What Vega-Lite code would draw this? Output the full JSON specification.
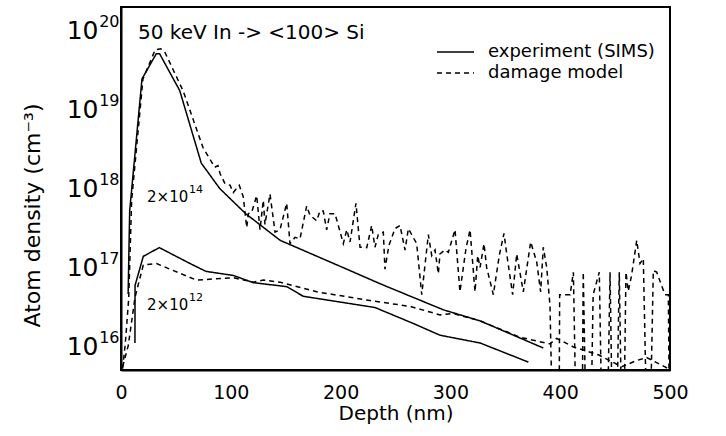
{
  "$schema": "https://vega.github.io/schema/vega-lite/v6.json",
  "width": 549,
  "height": 363,
  "autosize": {"type": "none"},
  "padding": {"left": 121, "top": 7, "right": 56, "bottom": 66},
  "background": "white",
  "config": {
    "view": {"stroke": "black", "strokeWidth": 2},
    "axis": {"grid": false, "domainColor": "black", "domainWidth": 2, "labelColor": "black", "titleColor": "black", "labelFont": "DejaVu Sans", "titleFont": "DejaVu Sans", "titleFontWeight": "normal", "labelOverlap": false},
    "text": {"font": "DejaVu Sans", "color": "black"}
  },
  "datasets": {
    "curves": [
      {"curve": "exp14", "kind": "experiment (SIMS)", "depth": 6.5, "density": 4.6e16},
      {"curve": "exp14", "kind": "experiment (SIMS)", "depth": 7.9, "density": 5.2e17},
      {"curve": "exp14", "kind": "experiment (SIMS)", "depth": 19.1, "density": 2.45e19},
      {"curve": "exp14", "kind": "experiment (SIMS)", "depth": 32.1, "density": 5.1e19},
      {"curve": "exp14", "kind": "experiment (SIMS)", "depth": 35.2, "density": 5.1e19},
      {"curve": "exp14", "kind": "experiment (SIMS)", "depth": 53.5, "density": 1.74e19},
      {"curve": "exp14", "kind": "experiment (SIMS)", "depth": 73.1, "density": 2.1e18},
      {"curve": "exp14", "kind": "experiment (SIMS)", "depth": 89.9, "density": 1.0e18},
      {"curve": "exp14", "kind": "experiment (SIMS)", "depth": 113.5, "density": 4.8e17},
      {"curve": "exp14", "kind": "experiment (SIMS)", "depth": 145, "density": 2.2e17},
      {"curve": "exp14", "kind": "experiment (SIMS)", "depth": 208.6, "density": 9.1e16},
      {"curve": "exp14", "kind": "experiment (SIMS)", "depth": 236, "density": 6.2e16},
      {"curve": "exp14", "kind": "experiment (SIMS)", "depth": 293.5, "density": 2.9e16},
      {"curve": "exp14", "kind": "experiment (SIMS)", "depth": 327, "density": 2.1e16},
      {"curve": "exp14", "kind": "experiment (SIMS)", "depth": 384.6, "density": 9.5e15},

      {"curve": "exp12", "kind": "experiment (SIMS)", "depth": 12.7, "density": 1.1e16},
      {"curve": "exp12", "kind": "experiment (SIMS)", "depth": 12.8, "density": 5.9e16},
      {"curve": "exp12", "kind": "experiment (SIMS)", "depth": 20.3, "density": 1.38e17},
      {"curve": "exp12", "kind": "experiment (SIMS)", "depth": 34.9, "density": 1.78e17},
      {"curve": "exp12", "kind": "experiment (SIMS)", "depth": 62.8, "density": 1.12e17},
      {"curve": "exp12", "kind": "experiment (SIMS)", "depth": 77.4, "density": 8.9e16},
      {"curve": "exp12", "kind": "experiment (SIMS)", "depth": 102.3, "density": 7.9e16},
      {"curve": "exp12", "kind": "experiment (SIMS)", "depth": 120.5, "density": 6.4e16},
      {"curve": "exp12", "kind": "experiment (SIMS)", "depth": 150.9, "density": 5.7e16},
      {"curve": "exp12", "kind": "experiment (SIMS)", "depth": 166, "density": 4.3e16},
      {"curve": "exp12", "kind": "experiment (SIMS)", "depth": 231.3, "density": 3.1e16},
      {"curve": "exp12", "kind": "experiment (SIMS)", "depth": 266, "density": 1.95e16},
      {"curve": "exp12", "kind": "experiment (SIMS)", "depth": 290.5, "density": 1.38e16},
      {"curve": "exp12", "kind": "experiment (SIMS)", "depth": 327, "density": 1.1e16},
      {"curve": "exp12", "kind": "experiment (SIMS)", "depth": 371, "density": 6.3e15},

      {"curve": "dam12", "kind": "damage model", "depth": 1.5, "density": 5.5e15},
      {"curve": "dam12", "kind": "damage model", "depth": 6.6, "density": 1.02e16},
      {"curve": "dam12", "kind": "damage model", "depth": 12.8, "density": 4.2e16},
      {"curve": "dam12", "kind": "damage model", "depth": 20.3, "density": 1.07e17},
      {"curve": "dam12", "kind": "damage model", "depth": 32.4, "density": 1.12e17},
      {"curve": "dam12", "kind": "damage model", "depth": 44.5, "density": 9.5e16},
      {"curve": "dam12", "kind": "damage model", "depth": 68.8, "density": 6.9e16},
      {"curve": "dam12", "kind": "damage model", "depth": 102.3, "density": 7.4e16},
      {"curve": "dam12", "kind": "damage model", "depth": 120.5, "density": 6.5e16},
      {"curve": "dam12", "kind": "damage model", "depth": 129.6, "density": 6.9e16},
      {"curve": "dam12", "kind": "damage model", "depth": 144.8, "density": 6.5e16},
      {"curve": "dam12", "kind": "damage model", "depth": 178.2, "density": 4.9e16},
      {"curve": "dam12", "kind": "damage model", "depth": 226.8, "density": 3.8e16},
      {"curve": "dam12", "kind": "damage model", "depth": 263.2, "density": 3.2e16},
      {"curve": "dam12", "kind": "damage model", "depth": 290.5, "density": 2.5e16},
      {"curve": "dam12", "kind": "damage model", "depth": 302.6, "density": 2.6e16},
      {"curve": "dam12", "kind": "damage model", "depth": 327, "density": 2.1e16},
      {"curve": "dam12", "kind": "damage model", "depth": 363.4, "density": 1.3e16},
      {"curve": "dam12", "kind": "damage model", "depth": 390.7, "density": 1.07e16},
      {"curve": "dam12", "kind": "damage model", "depth": 396.8, "density": 1.26e16},
      {"curve": "dam12", "kind": "damage model", "depth": 412, "density": 9.8e15},
      {"curve": "dam12", "kind": "damage model", "depth": 434.7, "density": 7.8e15},
      {"curve": "dam12", "kind": "damage model", "depth": 456, "density": 5.5e15},
      {"curve": "dam12", "kind": "damage model", "depth": 469.7, "density": 6.6e15},
      {"curve": "dam12", "kind": "damage model", "depth": 478.8, "density": 7.2e15},
      {"curve": "dam12", "kind": "damage model", "depth": 498.5, "density": 5.2e15},

      {"curve": "dam14", "kind": "damage model", "depth": 1.5, "density": 5.2e15},
      {"curve": "dam14", "kind": "damage model", "depth": 4, "density": 1.12e16},
      {"curve": "dam14", "kind": "damage model", "depth": 7, "density": 4.0e16},
      {"curve": "dam14", "kind": "damage model", "depth": 9.7, "density": 7.1e17},
      {"curve": "dam14", "kind": "damage model", "depth": 20, "density": 2.45e19},
      {"curve": "dam14", "kind": "damage model", "depth": 31.2, "density": 5.75e19},
      {"curve": "dam14", "kind": "damage model", "depth": 36.2, "density": 5.9e19},
      {"curve": "dam14", "kind": "damage model", "depth": 39.8, "density": 5.4e19},
      {"curve": "dam14", "kind": "damage model", "depth": 56.5, "density": 1.74e19},
      {"curve": "dam14", "kind": "damage model", "depth": 74.7, "density": 3.3e18},
      {"curve": "dam14", "kind": "damage model", "depth": 85.4, "density": 1.86e18},
      {"curve": "dam14", "kind": "damage model", "depth": 88.3, "density": 1.95e18},
      {"curve": "dam14", "kind": "damage model", "depth": 90.2, "density": 1.55e18},
      {"curve": "dam14", "kind": "damage model", "depth": 94.7, "density": 1.15e18},
      {"curve": "dam14", "kind": "damage model", "depth": 99.3, "density": 1.1e18},
      {"curve": "dam14", "kind": "damage model", "depth": 102.3, "density": 8.9e17},
      {"curve": "dam14", "kind": "damage model", "depth": 107.7, "density": 1.1e18},
      {"curve": "dam14", "kind": "damage model", "depth": 111.4, "density": 7.8e17},
      {"curve": "dam14", "kind": "damage model", "depth": 114.5, "density": 3.2e17},
      {"curve": "dam14", "kind": "damage model", "depth": 116, "density": 4.8e17},
      {"curve": "dam14", "kind": "damage model", "depth": 119, "density": 5.0e17},
      {"curve": "dam14", "kind": "damage model", "depth": 123.6, "density": 8.1e17},
      {"curve": "dam14", "kind": "damage model", "depth": 126.6, "density": 3.0e17},
      {"curve": "dam14", "kind": "damage model", "depth": 129.6, "density": 7.1e17},
      {"curve": "dam14", "kind": "damage model", "depth": 131.1, "density": 3.5e17},
      {"curve": "dam14", "kind": "damage model", "depth": 135.7, "density": 8.5e17},
      {"curve": "dam14", "kind": "damage model", "depth": 140.3, "density": 2.8e17},
      {"curve": "dam14", "kind": "damage model", "depth": 144.8, "density": 3.0e17},
      {"curve": "dam14", "kind": "damage model", "depth": 150.9, "density": 6.5e17},
      {"curve": "dam14", "kind": "damage model", "depth": 153.9, "density": 2.0e17},
      {"curve": "dam14", "kind": "damage model", "depth": 158.5, "density": 2.4e17},
      {"curve": "dam14", "kind": "damage model", "depth": 163, "density": 2.3e17},
      {"curve": "dam14", "kind": "damage model", "depth": 169.1, "density": 6.0e17},
      {"curve": "dam14", "kind": "damage model", "depth": 172.1, "density": 4.6e17},
      {"curve": "dam14", "kind": "damage model", "depth": 178.2, "density": 3.9e17},
      {"curve": "dam14", "kind": "damage model", "depth": 181.2, "density": 5.2e17},
      {"curve": "dam14", "kind": "damage model", "depth": 184.2, "density": 5.2e17},
      {"curve": "dam14", "kind": "damage model", "depth": 187.3, "density": 3.0e17},
      {"curve": "dam14", "kind": "damage model", "depth": 190.3, "density": 4.8e17},
      {"curve": "dam14", "kind": "damage model", "depth": 194.9, "density": 4.8e17},
      {"curve": "dam14", "kind": "damage model", "depth": 202.5, "density": 2.0e17},
      {"curve": "dam14", "kind": "damage model", "depth": 205.6, "density": 3.0e17},
      {"curve": "dam14", "kind": "damage model", "depth": 208.6, "density": 2.1e17},
      {"curve": "dam14", "kind": "damage model", "depth": 214, "density": 6.5e17},
      {"curve": "dam14", "kind": "damage model", "depth": 217.7, "density": 1.8e17},
      {"curve": "dam14", "kind": "damage model", "depth": 223.8, "density": 1.78e17},
      {"curve": "dam14", "kind": "damage model", "depth": 228.3, "density": 3.4e17},
      {"curve": "dam14", "kind": "damage model", "depth": 231.3, "density": 1.8e17},
      {"curve": "dam14", "kind": "damage model", "depth": 234.3, "density": 2.6e17},
      {"curve": "dam14", "kind": "damage model", "depth": 238.9, "density": 2.8e17},
      {"curve": "dam14", "kind": "damage model", "depth": 240.4, "density": 9.5e16},
      {"curve": "dam14", "kind": "damage model", "depth": 244, "density": 1.9e17},
      {"curve": "dam14", "kind": "damage model", "depth": 249.5, "density": 3.1e17},
      {"curve": "dam14", "kind": "damage model", "depth": 254.1, "density": 3.4e17},
      {"curve": "dam14", "kind": "damage model", "depth": 258.7, "density": 1.66e17},
      {"curve": "dam14", "kind": "damage model", "depth": 261.7, "density": 3.1e17},
      {"curve": "dam14", "kind": "damage model", "depth": 269.3, "density": 2.0e17},
      {"curve": "dam14", "kind": "damage model", "depth": 273.9, "density": 4.5e16},
      {"curve": "dam14", "kind": "damage model", "depth": 279.9, "density": 2.6e17},
      {"curve": "dam14", "kind": "damage model", "depth": 283, "density": 1.41e17},
      {"curve": "dam14", "kind": "damage model", "depth": 286, "density": 1.66e17},
      {"curve": "dam14", "kind": "damage model", "depth": 289, "density": 8.3e16},
      {"curve": "dam14", "kind": "damage model", "depth": 290.5, "density": 1.48e17},
      {"curve": "dam14", "kind": "damage model", "depth": 295.1, "density": 1.66e17},
      {"curve": "dam14", "kind": "damage model", "depth": 298.1, "density": 1.55e17},
      {"curve": "dam14", "kind": "damage model", "depth": 304.2, "density": 3.0e17},
      {"curve": "dam14", "kind": "damage model", "depth": 308.7, "density": 4.9e16},
      {"curve": "dam14", "kind": "damage model", "depth": 314.2, "density": 1.74e17},
      {"curve": "dam14", "kind": "damage model", "depth": 317.9, "density": 3.0e17},
      {"curve": "dam14", "kind": "damage model", "depth": 322.4, "density": 4.9e16},
      {"curve": "dam14", "kind": "damage model", "depth": 324.9, "density": 1.41e17},
      {"curve": "dam14", "kind": "damage model", "depth": 327, "density": 1.0e17},
      {"curve": "dam14", "kind": "damage model", "depth": 330.6, "density": 2.0e17},
      {"curve": "dam14", "kind": "damage model", "depth": 333, "density": 1.0e17},
      {"curve": "dam14", "kind": "damage model", "depth": 339.1, "density": 4.5e16},
      {"curve": "dam14", "kind": "damage model", "depth": 344.5, "density": 1.41e17},
      {"curve": "dam14", "kind": "damage model", "depth": 348.8, "density": 2.7e17},
      {"curve": "dam14", "kind": "damage model", "depth": 351.3, "density": 1.48e17},
      {"curve": "dam14", "kind": "damage model", "depth": 356.7, "density": 4.5e16},
      {"curve": "dam14", "kind": "damage model", "depth": 360.4, "density": 1.48e17},
      {"curve": "dam14", "kind": "damage model", "depth": 366.4, "density": 4.9e16},
      {"curve": "dam14", "kind": "damage model", "depth": 373.1, "density": 2.1e17},
      {"curve": "dam14", "kind": "damage model", "depth": 378.6, "density": 1.17e17},
      {"curve": "dam14", "kind": "damage model", "depth": 382.2, "density": 4.9e16},
      {"curve": "dam14", "kind": "damage model", "depth": 384.6, "density": 1.8e17},
      {"curve": "dam14", "kind": "damage model", "depth": 387.7, "density": 1.0e17},
      {"curve": "dam14", "kind": "damage model", "depth": 390.7, "density": 3.3e16},
      {"curve": "dam14", "kind": "damage model", "depth": 393, "density": 1e15},
      {"curve": "dam14", "kind": "damage model", "depth": 399, "density": 1e15},
      {"curve": "dam14", "kind": "damage model", "depth": 399.5, "density": 4.5e16},
      {"curve": "dam14", "kind": "damage model", "depth": 409, "density": 4.5e16},
      {"curve": "dam14", "kind": "damage model", "depth": 412, "density": 8.7e16},
      {"curve": "dam14", "kind": "damage model", "depth": 414.5, "density": 1e15},
      {"curve": "dam14", "kind": "damage model", "depth": 420, "density": 1e15},
      {"curve": "dam14", "kind": "damage model", "depth": 421, "density": 8.7e16},
      {"curve": "dam14", "kind": "damage model", "depth": 423.5, "density": 1e15},
      {"curve": "dam14", "kind": "damage model", "depth": 428, "density": 1e15},
      {"curve": "dam14", "kind": "damage model", "depth": 430, "density": 4.5e16},
      {"curve": "dam14", "kind": "damage model", "depth": 435.6, "density": 8.7e16},
      {"curve": "dam14", "kind": "damage model", "depth": 438, "density": 1e15},
      {"curve": "dam14", "kind": "damage model", "depth": 443, "density": 1e15},
      {"curve": "dam14", "kind": "damage model", "depth": 445.4, "density": 8.7e16},
      {"curve": "dam14", "kind": "damage model", "depth": 447.5, "density": 1e15},
      {"curve": "dam14", "kind": "damage model", "depth": 451.5, "density": 1e15},
      {"curve": "dam14", "kind": "damage model", "depth": 453.8, "density": 8.7e16},
      {"curve": "dam14", "kind": "damage model", "depth": 456, "density": 1e15},
      {"curve": "dam14", "kind": "damage model", "depth": 458, "density": 1e15},
      {"curve": "dam14", "kind": "damage model", "depth": 459.9, "density": 8.7e16},
      {"curve": "dam14", "kind": "damage model", "depth": 462, "density": 5.0e16},
      {"curve": "dam14", "kind": "damage model", "depth": 465, "density": 7.9e16},
      {"curve": "dam14", "kind": "damage model", "depth": 469.7, "density": 2.2e17},
      {"curve": "dam14", "kind": "damage model", "depth": 472.7, "density": 1.12e17},
      {"curve": "dam14", "kind": "damage model", "depth": 475.7, "density": 1.29e17},
      {"curve": "dam14", "kind": "damage model", "depth": 478.8, "density": 1e15},
      {"curve": "dam14", "kind": "damage model", "depth": 482, "density": 1e15},
      {"curve": "dam14", "kind": "damage model", "depth": 484.8, "density": 9.1e16},
      {"curve": "dam14", "kind": "damage model", "depth": 487.9, "density": 8.7e16},
      {"curve": "dam14", "kind": "damage model", "depth": 495.4, "density": 4.5e16},
      {"curve": "dam14", "kind": "damage model", "depth": 498.5, "density": 4.5e16},
      {"curve": "dam14", "kind": "damage model", "depth": 499.5, "density": 1e15}
    ],
    "yMajor": [{"v": 1e16}, {"v": 1e17}, {"v": 1e18}, {"v": 1e19}, {"v": 1e20}],
    "titleText": [
      {"depth": 15.5, "density": 9.3e19, "label": "50 keV In -> <100> Si"}
    ],
    "doseText": [
      {"depth": 23.7, "density": 7.8e17, "base": "2×10", "exp": "14"},
      {"depth": 23.7, "density": 3.3e16, "base": "2×10", "exp": "12"}
    ]
  },
  "layer": [
    {
      "data": {"name": "curves"},
      "mark": {"type": "line", "color": "black", "strokeWidth": 1.5, "clip": true},
      "encoding": {
        "x": {"field": "depth", "type": "quantitative", "scale": {"domain": [0, 500], "nice": false, "zero": false},
          "axis": {"orient": "bottom", "values": [0, 100, 200, 300, 400, 500], "ticks": false, "labelFontSize": 19, "labelPadding": 13, "labelFlush": false,
            "title": "Depth (nm)", "titleFontSize": 20, "titleX": 274.5, "titleY": 43, "titleBaseline": "middle", "titleAlign": "center"}},
        "y": {"field": "density", "type": "quantitative", "scale": {"type": "log", "domain": [5e15, 2e20], "nice": false},
          "axis": {"orient": "left", "values": [1e16, 1e17, 1e18, 1e19, 1e20], "ticks": false, "labelFontSize": 25, "labelPadding": 23, "labelFlush": false,
            "labelExpr": "'10'",
            "title": "Atom density (cm⁻³)", "titleFontSize": 22, "titleX": -89, "titleY": 208, "titleBaseline": "middle", "titleAlign": "center", "titleAngle": -90}},
        "detail": {"field": "curve", "type": "nominal"},
        "strokeDash": {"field": "kind", "type": "nominal",
          "scale": {"domain": ["experiment (SIMS)", "damage model"], "range": [[1, 0], [5, 4]]},
          "legend": {"orient": "none", "legendX": 315, "legendY": 37, "title": null, "symbolType": "stroke", "symbolSize": 1369, "symbolStrokeWidth": 1.5, "symbolStrokeColor": "black", "labelFontSize": 18, "labelFont": "DejaVu Sans", "labelColor": "black", "labelOffset": 13, "clipHeight": 16, "rowPadding": 3, "labelLimit": 300}}
      }
    },
    {
      "data": {"name": "yMajor"},
      "mark": {"type": "point", "opacity": 0},
      "encoding": {
        "y": {"field": "v", "type": "quantitative",
          "axis": {"orient": "left", "values": [1e16, 1e17, 1e18, 1e19, 1e20], "ticks": false, "domain": false, "title": null, "labelFontSize": 16, "labelPadding": 2, "labelOffset": -9, "labelFlush": false,
            "labelExpr": "datum.value >= 9e19 ? '20' : datum.value >= 9e18 ? '19' : datum.value >= 9e17 ? '18' : datum.value >= 9e16 ? '17' : '16'"}}
      }
    },
    {
      "data": {"name": "titleText"},
      "mark": {"type": "text", "align": "left", "baseline": "middle", "fontSize": 20, "font": "DejaVu Sans", "color": "black"},
      "encoding": {
        "x": {"field": "depth", "type": "quantitative", "axis": null},
        "y": {"field": "density", "type": "quantitative", "axis": null},
        "text": {"field": "label"}
      }
    },
    {
      "data": {"name": "doseText"},
      "mark": {"type": "text", "align": "left", "baseline": "middle", "fontSize": 15, "font": "DejaVu Sans", "color": "black"},
      "encoding": {
        "x": {"field": "depth", "type": "quantitative", "axis": null},
        "y": {"field": "density", "type": "quantitative", "axis": null},
        "text": {"field": "base"}
      }
    },
    {
      "data": {"name": "doseText"},
      "mark": {"type": "text", "align": "left", "baseline": "middle", "fontSize": 11, "font": "DejaVu Sans", "color": "black", "dx": 42, "dy": -7},
      "encoding": {
        "x": {"field": "depth", "type": "quantitative", "axis": null},
        "y": {"field": "density", "type": "quantitative", "axis": null},
        "text": {"field": "exp"}
      }
    }
  ],
  "resolve": {"axis": {"x": "independent", "y": "independent"}}
}
